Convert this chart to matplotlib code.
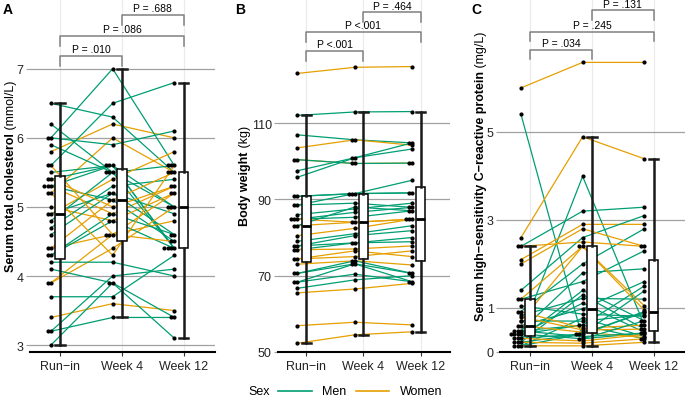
import matplotlib.pyplot as plt
from matplotlib.lines import Line2D

plt.rcParams['font.family'] = 'Liberation Sans'

visits = ['Run\u2212in', 'Week 4', 'Week 12']

# one entry per participant (same order in every list)
sex = ['W', 'M', 'M', 'W', 'W', 'M', 'M', 'M', 'M', 'M', 'M', 'M', 'M', 'M', 'M', 'W', 'W', 'M',
       'W', 'M', 'M', 'M', 'M', 'W', 'W', 'W', 'W', 'M', 'M', 'M', 'M', 'M', 'W', 'W', 'W']

chol_run = [5.8, 6.0, 6.5, 5.2, 3.4, 3.0, 3.2, 3.2, 6.2, 5.6, 6.0, 5.9, 5.4, 5.5, 5.3, 5.3, 5.0, 5.3,
            4.9, 4.9, 4.8, 4.7, 4.6, 4.4, 4.4, 3.9, 3.9, 4.3, 4.3, 4.2, 4.1, 3.7, 5.4, 5.6, 5.2]
chol_w4 = [6.2, 7.0, 6.3, 6.0, 3.6, 3.9, 3.4, 4.0, 5.5, 6.5, 5.9, 5.5, 5.6, 5.6, 5.1, 4.9, 4.8, 5.6,
           5.4, 5.2, 5.5, 5.3, 5.2, 5.1, 4.6, 4.4, 4.6, 4.8, 4.9, 4.2, 3.9, 3.7, 5.0, 4.6, 4.3]
chol_w12 = [6.0, 5.6, 5.5, 5.5, 3.5, 3.4, 3.4, 4.1, 5.0, 6.8, 6.1, 5.6, 5.0, 4.4, 4.5, 5.3, 5.2, 4.4,
            5.8, 4.6, 4.4, 5.4, 4.9, 5.5, 4.8, 5.0, 5.2, 4.4, 4.6, 4.0, 3.1, 4.3, 5.3, 4.5, 5.6]

wt_run = [123.0, 112.0, 106.9, 103.5, 100.4, 100.4, 97.5, 95.8, 90.8, 90.8, 88.5, 88.5, 86.0, 84.8,
          84.8, 84.8, 83.1, 83.1, 80.5, 79.0, 77.8, 77.8, 76.8, 76.8, 74.4, 74.4, 73.0, 70.6, 70.6,
          68.3, 68.3, 66.7, 65.5, 56.9, 52.3]
wt_w4 = [124.6, 112.9, 105.6, 105.6, 99.4, 99.4, 100.9, 100.9, 91.5, 91.5, 91.5, 89.0, 87.5, 86.6,
         85.3, 84.0, 84.0, 88.0, 82.4, 81.0, 80.5, 78.6, 78.6, 77.0, 76.5, 75.0, 73.9, 73.9, 73.1,
         73.1, 70.4, 68.9, 66.5, 57.8, 54.5]
wt_w12 = [124.8, 113.0, 104.8, 104.2, 99.5, 99.5, 103.2, 104.8, 95.0, 91.7, 91.7, 87.9, 89.0, 87.9,
          87.0, 84.8, 84.8, 87.0, 84.8, 83.1, 81.8, 78.9, 80.0, 77.8, 75.0, 76.5, 72.8, 70.6, 68.4,
          70.6, 68.4, 70.0, 68.0, 57.1, 55.3]

crp_run = [6.0, 5.4, 0.41, 2.6, 2.1, 2.4, 1.4, 0.92, 0.48, 1.2, 0.31, 0.22, 0.83, 0.41, 0.6, 2.0, 2.4,
           1.05, 1.2, 0.14, 0.71, 0.48, 0.41, 0.92, 0.8, 0.6, 0.7, 0.31, 0.22, 0.14, 0.48, 0.41, 0.31,
           0.22, 0.14]
crp_w4 = [6.58, 0.3, 3.99, 4.89, 2.9, 3.2, 2.6, 2.0, 1.8, 1.6, 1.4, 1.3, 1.22, 1.11, 0.98, 2.8, 2.5,
          0.86, 2.4, 0.77, 0.7, 0.61, 0.61, 0.54, 0.5, 0.45, 2.4, 0.41, 0.41, 0.41, 0.35, 0.3, 0.25,
          0.2, 0.14]
crp_w12 = [6.58, 0.43, 0.61, 4.39, 2.9, 3.29, 3.1, 2.8, 1.89, 2.3, 0.71, 0.52, 1.2, 0.45, 1.6, 2.4, 2.4,
           0.81, 1.05, 0.35, 0.85, 0.3, 1.5, 0.61, 0.52, 0.33, 0.95, 0.92, 1.39, 0.9, 0.43, 0.71, 0.4,
           0.3, 0.22]

p_chol = ['P = .010', 'P = .086', 'P = .688']
p_wt = ['P <.001', 'P <.001', 'P = .464']
p_crp = ['P = .034', 'P = .245', 'P = .131']

colors = {'M': '#009E73', 'W': '#E69F00'}
W, H = 685, 402

fig = plt.figure(figsize=(W / 100, H / 100), dpi=100)
renderer = fig.canvas.get_renderer()


def stack_x(vals, pos):
    # dotplot-like stacking to the left of the box
    seen = {}
    xs = []
    for v in vals:
        k = seen.get(v, 0)
        seen[v] = k + 1
        xs.append(pos - 0.15 - 0.055 * k)
    return xs


def two_part_label(xb, bold, normal):
    # vertical label: bold part followed by normal part, centred on the axes
    kw = dict(rotation=90, rotation_mode='anchor', ha='left', va='baseline', fontsize=9)
    t1 = fig.text(xb / W, 0, bold, weight='bold', **kw)
    t2 = fig.text(xb / W, 0, normal, **kw)
    h1 = t1.get_window_extent(renderer).height
    h2 = t2.get_window_extent(renderer).height
    y0 = (H - 176) - (h1 + h2) / 2
    t1.set_y(y0 / H)
    t2.set_y((y0 + h1) / H)


def panel(left, right, series, ylim, yticks, brackets, drop, pvals, ylab, letter, lab_x, let_x):
    ax = fig.add_axes([left / W, (H - 353) / H, (right - left) / W, 353 / H])
    ax.set_xlim(0.51, 3.51)
    ax.set_ylim(*ylim)
    for p in (1, 2, 3):
        ax.axvline(p, color='#ebebeb', lw=0.8, zorder=0)
    for t in yticks:
        ax.axhline(t, color='#a0a0a0', lw=0.9, zorder=0)
    # participant lines
    for i, s in enumerate(sex):
        ys = [series[0][i], series[1][i], series[2][i]]
        ax.plot([0.85, 1.85, 2.85], ys, color=colors[s], lw=0.9, zorder=1)
    # box plots
    ax.boxplot(series, positions=[1, 2, 3], widths=0.16, showfliers=False, patch_artist=True,
               capwidths=0.16,
               boxprops=dict(facecolor='white', edgecolor='black', linewidth=1.1),
               medianprops=dict(color='black', linewidth=2.0),
               whiskerprops=dict(color='#1a1a1a', linewidth=1.8),
               capprops=dict(color='#1a1a1a', linewidth=1.8), zorder=3)
    # dots
    for j, vals in enumerate(series):
        ax.plot(stack_x(vals, j + 1), vals, 'o', color='black', ms=2.0, zorder=4, clip_on=False)
    # significance brackets
    pairs = [(1, 2), (1, 3), (2, 3)]
    for (a, b), yb, txt in zip(pairs, brackets, pvals):
        ax.plot([a, a, b, b], [yb - drop, yb, yb, yb - drop], color='#808080', lw=1.1,
                clip_on=False, zorder=2)
        ax.text((a + b) / 2, yb + drop * 0.15, txt, ha='center', va='bottom', fontsize=7.5,
                color='black', clip_on=False)
    for sp in ('left', 'top', 'right'):
        ax.spines[sp].set_visible(False)
    ax.spines['bottom'].set_linewidth(1.5)
    ax.set_yticks(yticks)
    ax.set_yticklabels([str(t) for t in yticks])
    ax.set_xticks([1, 2, 3])
    ax.set_xticklabels(visits)
    ax.tick_params(axis='y', length=3, color='#a0a0a0', labelsize=9, labelcolor='#222222', pad=1.5)
    ax.tick_params(axis='x', length=3, color='#333333', labelsize=9, labelcolor='#222222', pad=3)
    two_part_label(lab_x, ylab[0], ylab[1])
    fig.text(let_x / W, 1 - 10 / H, letter, ha='left', va='center', fontsize=10, weight='bold')
    return ax


panel(30, 215, [chol_run, chol_w4, chol_w12], (2.9, 8.01), [3, 4, 5, 6, 7],
      [7.19, 7.48, 7.78], 0.15, p_chol,
      ('Serum total cholesterol', ' (mmol/L)'), 'A', 14, 3)
panel(278, 450, [wt_run, wt_w4, wt_w12], (50, 142.5), [50, 70, 90, 110],
      [128.9, 133.9, 139.0], 2.6, p_wt,
      ('Body weight', ' (kg)'), 'B', 248, 235)
panel(500, 685, [crp_run, crp_w4, crp_w12], (0, 8.02), [0, 1, 3, 5],
      [6.87, 7.28, 7.76], 0.22, p_crp,
      ('Serum high\u2212sensitivity C\u2212reactive protein', ' (mg/L)'), 'C', 484, 471)

# legend
ly = 1 - 392 / H
fig.text(248 / W, ly, 'Sex', ha='left', va='center', fontsize=9)
fig.add_artist(Line2D([278 / W, 312 / W], [ly, ly], color=colors['M'], lw=1.2))
fig.text(322 / W, ly, 'Men', ha='left', va='center', fontsize=9)
fig.add_artist(Line2D([356 / W, 389 / W], [ly, ly], color=colors['W'], lw=1.2))
fig.text(400 / W, ly, 'Women', ha='left', va='center', fontsize=9)

fig.savefig('out.png', dpi=100)
